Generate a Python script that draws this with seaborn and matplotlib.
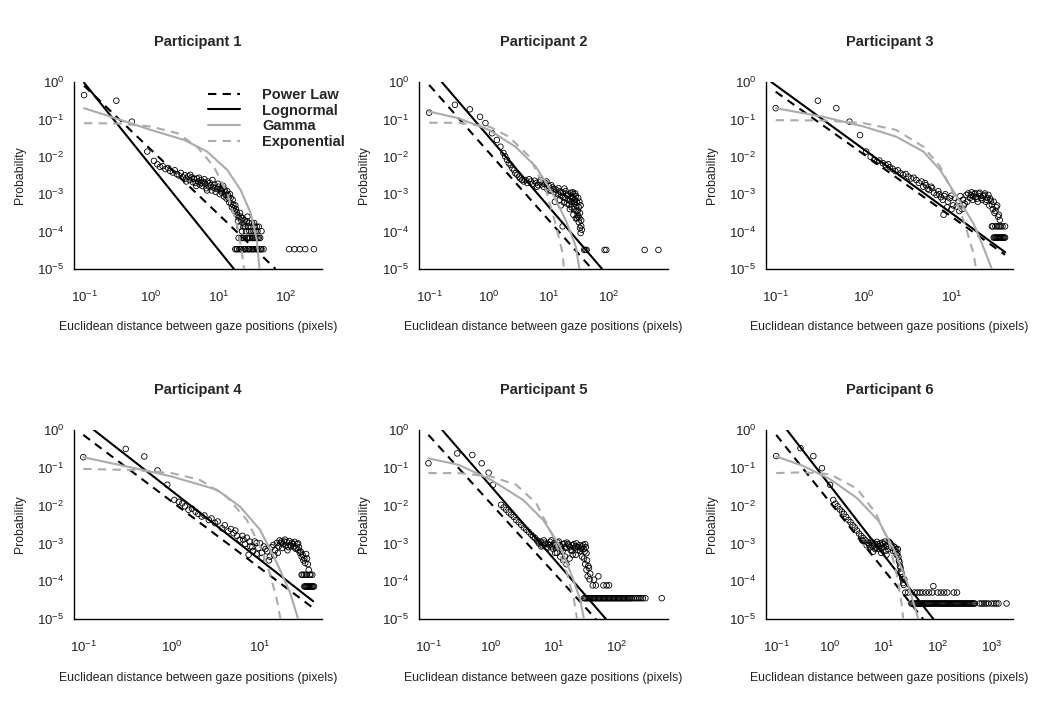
import numpy as np
import matplotlib
matplotlib.use("Agg")
import matplotlib.pyplot as plt
import seaborn as sns
from matplotlib.lines import Line2D
from matplotlib.ticker import FixedLocator, NullLocator, LogFormatterSciNotation

sns.set_theme(style="white")
plt.rcParams['font.family'] = ['Liberation Sans', 'DejaVu Sans']

# ---------------- data (log10 units) ----------------
titles = ["Participant 1", "Participant 2", "Participant 3",
          "Participant 4", "Participant 5", "Participant 6"]
legend_labels = ["Power Law", "Lognormal", "Gamma", "Exponential"]
x_label = "Euclidean distance between gaze positions (pixels)"
y_label = "Probability"

# Participant 1
p1_dist = [-1.0, -0.52, -0.29, -0.06, 0.04, 0.09, 0.13, 0.17, 0.21, 0.25, 0.28, 0.32, 0.35, 0.38, 0.41, 0.44,
           0.47, 0.50, 0.52, 0.55, 0.57, 0.60, 0.62, 0.64, 0.66, 0.68, 0.70, 0.72, 0.74, 0.76, 0.78, 0.80,
           0.82, 0.84, 0.86, 0.88, 0.90, 0.92, 0.94, 0.96, 0.98, 1.00, 1.02, 1.04, 1.06, 1.08, 1.10, 1.12,
           1.14, 1.16, 1.18, 1.20, 1.22, 1.24, 1.26, 1.28, 1.30, 1.32, 1.34, 1.36, 1.38, 1.40, 1.42, 1.44,
           1.46, 1.48, 1.50, 1.52, 1.54, 1.56, 1.58, 1.60, 1.62, 1.64,
           1.30, 1.34, 1.38, 1.42, 1.46, 1.50, 1.54, 1.58,
           1.25, 1.28, 1.31, 1.34, 1.37, 1.40, 1.43, 1.46, 1.49, 1.52, 1.55, 1.58, 1.61, 1.64, 1.67,
           2.05, 2.13, 2.21, 2.29, 2.42,
           0.52, 0.58, 0.63, 0.67, 0.71, 0.75, 0.79, 0.83, 0.87, 0.91, 0.95, 0.99, 1.03, 1.05, 1.07, 1.09,
           1.11, 1.13, 1.15, 1.17, 1.19, 1.21, 1.23, 1.25, 1.27, 1.29, 1.31, 1.33, 1.35, 1.37, 1.39, 1.41,
           1.43, 1.45, 1.47, 1.49, 1.51, 1.53, 1.55, 1.57, 1.27, 1.33, 1.39, 1.45, 1.51, 1.57, 1.63,
           1.36, 1.44, 1.52, 1.60]
p1_prob = [-0.35, -0.50, -1.06, -1.86, -2.11, -2.20, -2.27, -2.25, -2.33, -2.30, -2.38, -2.42, -2.36, -2.46, -2.50, -2.43,
           -2.55, -2.49, -2.58, -2.52, -2.62, -2.55, -2.68, -2.60, -2.70, -2.58, -2.66, -2.74, -2.62, -2.78, -2.68, -2.72,
           -2.84, -2.66, -2.80, -2.76, -2.90, -2.82, -2.74, -2.94, -2.86, -2.80, -3.00, -2.90, -2.84, -3.06, -2.95, -3.12,
           -3.02, -3.22, -3.10, -3.35, -3.28, -3.45, -3.40, -3.55, -3.62, -3.50, -3.70, -3.64, -3.78, -3.87, -3.72, -3.87,
           -3.99, -3.87, -3.77, -3.99, -3.87, -4.17, -3.99, -3.87, -4.17, -3.99,
           -4.17, -4.17, -4.17, -4.17, -4.17, -4.17, -4.17, -4.17,
           -4.47, -4.47, -4.47, -4.47, -4.47, -4.47, -4.47, -4.47, -4.47, -4.47, -4.47, -4.47, -4.47, -4.47, -4.47,
           -4.47, -4.47, -4.47, -4.47, -4.47,
           -2.66, -2.48, -2.58, -2.78, -2.56, -2.70, -2.60, -2.90, -2.70, -2.62, -2.84, -2.72, -2.86, -2.96, -2.78, -2.88,
           -3.02, -2.92, -3.10, -3.00, -3.25, -3.15, -3.38, -3.30, -3.48, -3.72, -3.87, -3.60, -3.99, -3.87, -3.70, -3.99,
           -3.60, -3.77, -4.17, -3.99, -4.17, -3.77, -3.99, -3.87, -4.47, -4.47, -4.47, -4.47, -4.47, -4.47, -4.47,
           -4.17, -4.17, -4.17, -4.17]
p1_power_x, p1_power_y = [-1.0, 1.85], [-0.10, -5.0]
p1_logn_x, p1_logn_y = [-1.0, 1.23], [-0.02, -5.0]
p1_gamma_x = [-1.0, -0.60, -0.01, 0.49, 0.83, 1.13, 1.33, 1.48, 1.57, 1.61]
p1_gamma_y = [-0.70, -0.93, -1.28, -1.55, -1.86, -2.35, -2.89, -3.51, -4.22, -5.0]
p1_exp_x = [-1.0, -0.50, -0.01, 0.39, 0.68, 0.93, 1.13, 1.28, 1.35, 1.38]
p1_exp_y = [-1.10, -1.11, -1.19, -1.37, -1.73, -2.26, -2.97, -3.86, -4.58, -5.0]

# Participant 2
p2_dist = [-1.0, -0.57, -0.32, -0.15, -0.06, 0.05, 0.13, 0.19,
           0.24, 0.27, 0.30, 0.33, 0.36, 0.39, 0.42, 0.44, 0.47, 0.50, 0.52, 0.55, 0.58, 0.61, 0.64, 0.67,
           0.70, 0.73, 0.76, 0.79, 0.82, 0.85, 0.88, 0.91, 0.94, 0.97, 1.00, 1.03, 1.06, 1.09, 1.12, 1.15,
           1.18, 1.21, 1.24, 1.27, 1.30, 1.33, 1.36, 1.38, 1.40, 1.42, 1.44, 1.46, 1.48, 1.49, 1.50, 1.51,
           1.52, 1.53, 1.54, 1.10, 1.20, 1.25, 1.35, 1.41, 1.45, 1.23, 1.47,
           1.59, 1.61, 1.63, 1.93, 1.96, 2.60, 2.83,
           1.00, 1.04, 1.08, 1.12, 1.16, 1.20, 1.24, 1.28, 1.32, 1.35, 1.37, 1.39, 1.41, 1.43, 1.45, 1.47,
           1.49, 1.50, 1.51, 1.52, 1.53, 1.54, 1.55, 1.30, 1.38, 1.46, 0.80, 0.86, 0.92, 0.96, 1.18, 1.26,
           1.34, 1.42, 1.48, 1.40, 1.44]
p2_prob = [-0.82, -0.61, -0.73, -0.93, -1.10, -1.37, -1.55, -1.73,
           -1.90, -1.99, -2.08, -2.17, -2.22, -2.31, -2.36, -2.44, -2.48, -2.53, -2.58, -2.62, -2.66, -2.62, -2.70, -2.60,
           -2.66, -2.72, -2.64, -2.70, -2.76, -2.68, -2.74, -2.80, -2.70, -2.86, -2.78, -2.90, -2.82, -2.95, -2.88, -3.00,
           -2.92, -3.05, -2.96, -3.10, -3.02, -3.15, -3.06, -3.20, -3.10, -3.25, -3.15, -3.30, -3.45, -3.60, -3.75, -3.64,
           -3.90, -4.04, -3.85, -3.20, -3.30, -3.22, -3.40, -3.55, -3.65, -3.86, -3.64,
           -4.49, -4.49, -4.49, -4.49, -4.49, -4.49, -4.49,
           -2.90, -2.76, -2.86, -2.98, -2.84, -2.95, -3.08, -2.92, -3.00, -3.18, -2.96, -3.12, -3.00, -3.20, -3.05, -3.22,
           -3.10, -3.35, -3.20, -3.50, -3.30, -3.70, -3.95, -3.25, -3.35, -3.45, -2.80, -2.62, -2.72, -2.66, -3.15, -2.85,
           -3.28, -3.40, -3.55, -2.95, -2.98]
p2_power_x, p2_power_y = [-1.0, 1.72], [-0.08, -5.0]
p2_logn_x, p2_logn_y = [-0.79, 1.89], [0.0, -5.0]
p2_gamma_x = [-1.0, -0.51, 0.0, 0.44, 0.78, 1.06, 1.28, 1.45, 1.51]
p2_gamma_y = [-0.79, -0.97, -1.28, -1.73, -2.26, -2.97, -3.69, -4.40, -5.0]
p2_exp_x = [-1.0, -0.51, 0.0, 0.33, 0.67, 0.95, 1.11, 1.23, 1.25]
p2_exp_y = [-1.09, -1.09, -1.19, -1.46, -1.99, -2.89, -3.78, -4.58, -5.0]

# Participant 3
p3_dist = [-1.0, -0.52, -0.31, -0.16, -0.04, 0.03,
           0.08, 0.12, 0.15, 0.18, 0.22, 0.25, 0.28, 0.30, 0.33, 0.36, 0.39, 0.42, 0.45, 0.48, 0.51, 0.54,
           0.57, 0.60, 0.63, 0.66, 0.68, 0.71, 0.73, 0.75, 0.78, 0.80, 0.83, 0.85, 0.88, 0.90, 0.91, 0.93,
           0.96, 0.98, 1.00, 1.02, 1.04, 1.06, 1.08, 1.10, 1.12, 1.13, 1.15, 1.17, 1.19, 1.21, 1.23, 1.25,
           1.27, 1.29, 1.31, 1.33, 1.35, 1.37, 1.39, 1.41, 1.43, 1.45, 1.47, 1.49, 1.51, 1.53, 1.55,
           1.46, 1.50, 1.54, 1.58, 1.61,
           1.48, 1.50, 1.52, 1.54, 1.56, 1.58, 1.60,
           1.22, 1.24, 1.26, 1.28, 1.30, 1.32, 1.34, 1.36, 1.38, 1.40, 1.42, 1.44, 1.46, 1.48, 1.50, 1.52,
           1.54, 1.18, 1.14, 1.09, 1.00, 0.95, 1.47, 1.52, 1.56, 1.49, 1.51, 1.53, 1.55, 1.57, 1.59, 1.61,
           0.70, 0.77, 0.86, 0.92]
p3_prob = [-0.70, -0.50, -0.70, -1.06, -1.42, -1.86,
           -2.00, -2.08, -2.13, -2.10, -2.17, -2.22, -2.20, -2.28, -2.32, -2.38, -2.36, -2.44, -2.48, -2.46, -2.53, -2.58,
           -2.56, -2.62, -2.70, -2.66, -2.80, -2.76, -2.86, -2.89, -2.84, -2.96, -3.02, -2.92, -3.08, -3.15, -3.55, -3.00,
           -3.20, -3.11, -3.04, -3.30, -3.10, -3.33, -3.18, -3.05, -3.40, -3.15, -3.25, -3.02, -2.98, -3.10, -2.95, -3.06,
           -2.97, -3.12, -2.99, -3.05, -3.15, -3.02, -3.20, -3.10, -3.30, -3.18, -3.40, -3.50, -3.35, -3.60, -3.69,
           -3.86, -3.86, -3.86, -3.86, -3.86,
           -4.16, -4.16, -4.16, -4.16, -4.16, -4.16, -4.16,
           -3.02, -3.15, -3.00, -3.08, -3.20, -2.96, -3.10, -3.05, -2.98, -3.15, -3.02, -3.12, -3.28, -3.20, -3.45, -3.30,
           -3.55, -3.20, -3.30, -3.45, -3.40, -3.35, -3.86, -3.86, -3.86, -4.16, -4.16, -4.16, -4.16, -4.16, -4.16, -4.16,
           -2.70, -2.80, -3.00, -3.05]
p3_power_x, p3_power_y = [-1.0, 1.61], [-0.26, -4.62]
p3_logn_x, p3_logn_y = [-1.05, 1.61], [0.0, -4.55]
p3_gamma_x = [-1.0, -0.46, 0.0, 0.37, 0.68, 0.87, 1.06, 1.25, 1.36, 1.46]
p3_gamma_y = [-0.70, -0.93, -1.19, -1.46, -1.86, -2.35, -3.06, -3.78, -4.40, -5.0]
p3_exp_x = [-1.0, -0.46, 0.0, 0.37, 0.68, 0.87, 1.02, 1.15, 1.25, 1.28]
p3_exp_y = [-1.02, -1.03, -1.10, -1.28, -1.73, -2.26, -2.97, -3.78, -4.58, -5.0]

# Participant 4
p4_dist = [-1.0, -0.52, -0.31, -0.16, -0.05, 0.03,
           0.08, 0.12, 0.15, 0.19, 0.23, 0.27, 0.30, 0.34, 0.37, 0.42, 0.45, 0.49, 0.52, 0.57, 0.60, 0.64,
           0.67, 0.70, 0.72, 0.77, 0.80, 0.83, 0.85, 0.87, 0.89, 0.92, 0.94, 0.96, 0.98, 1.00, 1.02, 1.04,
           1.06, 1.08, 1.11, 1.13, 1.15, 1.17, 1.19, 1.21, 1.22, 1.24, 1.26, 1.28, 1.30, 1.32, 1.34, 1.36,
           1.38, 1.40, 1.42, 1.43, 1.45, 1.47, 1.49, 1.51, 1.53, 1.55,
           1.47, 1.50, 1.53, 1.56, 1.59,
           1.50, 1.52, 1.54, 1.56, 1.58, 1.60,
           1.23, 1.25, 1.27, 1.29, 1.31, 1.33, 1.35, 1.37, 1.39, 1.41, 1.43, 1.44, 1.46, 1.48, 1.50, 1.52,
           1.54, 1.20, 1.16, 1.10, 1.02, 0.96, 1.48, 1.52, 1.57, 1.51, 1.53, 1.55, 1.57, 1.59, 1.61,
           0.74, 0.81, 0.88, 0.91]
p4_prob = [-0.72, -0.50, -0.70, -1.07, -1.45, -1.85,
           -1.90, -1.94, -2.02, -2.11, -2.08, -2.16, -2.22, -2.29, -2.26, -2.38, -2.34, -2.46, -2.42, -2.60, -2.52, -2.68,
           -2.62, -2.73, -2.66, -2.90, -2.80, -3.01, -2.85, -3.30, -3.08, -3.21, -2.95, -2.99, -3.12, -3.00, -3.25, -3.08,
           -3.15, -3.21, -3.35, -3.10, -3.04, -3.18, -2.99, -3.08, -2.92, -2.95, -3.02, -2.90, -2.96, -3.10, -3.04, -2.98,
           -3.08, -3.14, -3.02, -3.17, -3.25, -3.35, -3.45, -3.52, -3.40, -3.70,
           -3.83, -3.83, -3.83, -3.83, -3.83,
           -4.14, -4.14, -4.14, -4.14, -4.14, -4.14,
           -3.00, -3.12, -2.95, -3.06, -3.18, -2.94, -3.08, -3.02, -2.96, -3.12, -3.00, -3.10, -3.22, -3.30, -3.40, -3.28,
           -3.55, -3.25, -3.32, -3.45, -3.38, -3.28, -3.83, -3.83, -3.83, -4.14, -4.14, -4.14, -4.14, -4.14, -4.14,
           -2.80, -2.90, -2.95, -3.10]
p4_power_x, p4_power_y = [-1.0, 1.60], [-0.13, -4.71]
p4_logn_x, p4_logn_y = [-0.88, 1.60], [0.0, -4.53]
p4_gamma_x = [-1.0, -0.32, 0.0, 0.51, 0.77, 1.00, 1.19, 1.34, 1.43]
p4_gamma_y = [-0.72, -1.06, -1.23, -1.58, -2.02, -2.64, -3.52, -4.31, -5.0]
p4_exp_x = [-1.0, -0.43, 0.0, 0.32, 0.62, 0.85, 1.00, 1.11, 1.19, 1.23]
p4_exp_y = [-1.03, -1.06, -1.14, -1.32, -1.76, -2.38, -3.08, -3.79, -4.49, -5.0]

# Participant 5
p5_dist = [-1.0, -0.54, -0.30, -0.15, -0.04, 0.03, 0.16,
           0.20, 0.24, 0.28, 0.32, 0.36, 0.40, 0.44, 0.48, 0.52, 0.56, 0.60, 0.64, 0.67, 0.70,
           0.73, 0.76, 0.79, 0.82, 0.85, 0.88, 0.91, 0.94, 0.97, 1.00, 1.03, 1.06, 1.09, 1.12, 1.15, 1.18,
           1.21, 1.24, 1.27, 1.30, 1.33, 1.36, 1.39, 1.42, 1.45, 1.48, 1.50, 1.52,
           1.02, 1.10, 1.15, 1.20, 1.25, 1.30,
           1.48, 1.50, 1.52, 1.54, 1.56, 1.58, 1.64, 1.71,
           1.62, 1.67, 1.79, 1.84, 1.88,
           1.48, 1.52, 1.56, 1.60, 1.64, 1.68, 1.72, 1.76, 1.80, 1.84, 1.88, 1.92, 1.96, 2.00, 2.04, 2.08,
           2.12, 2.16, 2.20, 2.24, 2.30, 2.36, 2.42, 2.46, 2.72,
           0.75, 0.80, 0.84, 0.87, 0.90, 0.93, 0.96, 0.99, 1.02, 1.05, 1.08, 1.11, 1.14, 1.17, 1.20, 1.23,
           1.26, 1.29, 1.32, 1.35, 1.38, 1.41, 1.44, 1.47, 1.49, 1.51, 1.53, 1.55, 1.57, 1.05, 1.18, 1.35, 1.45,
           1.50, 1.54, 1.58, 1.62, 1.66, 1.70, 1.74, 1.78, 1.82, 1.86, 1.90, 1.94, 1.98, 2.02, 2.06, 2.10,
           2.14, 2.18, 2.22, 2.27, 2.33, 2.39]
p5_prob = [-0.88, -0.62, -0.66, -0.88, -1.13, -1.45, -1.98,
           -2.05, -2.11, -2.18, -2.24, -2.30, -2.38, -2.44, -2.51, -2.58, -2.64, -2.70, -2.77, -2.82, -2.86,
           -2.92, -3.00, -2.95, -3.05, -2.98, -3.10, -3.02, -2.96, -3.08, -3.00, -3.12, -2.98, -3.05, -3.15, -3.02, -3.10,
           -2.98, -3.06, -3.18, -3.05, -3.12, -3.00, -3.10, -3.20, -3.08, -3.15, -3.02, -3.26,
           -3.25, -3.35, -3.45, -3.55, -3.40, -3.30,
           -3.40, -3.55, -3.70, -3.87, -3.65, -3.80, -3.96, -3.87,
           -4.11, -4.11, -4.11, -4.11, -4.11,
           -4.45, -4.45, -4.45, -4.45, -4.45, -4.45, -4.45, -4.45, -4.45, -4.45, -4.45, -4.45, -4.45, -4.45, -4.45, -4.45,
           -4.45, -4.45, -4.45, -4.45, -4.45, -4.45, -4.45, -4.45, -4.45,
           -2.95, -3.08, -2.92, -3.02, -3.12, -3.04, -2.92, -3.15, -3.05, -3.10, -2.95, -3.08, -3.20, -3.00, -3.12, -3.02,
           -3.10, -3.20, -3.02, -3.08, -3.18, -3.05, -3.14, -3.04, -3.22, -3.10, -3.45, -3.60, -3.95, -3.25, -3.35, -3.30, -3.35,
           -4.45, -4.45, -4.45, -4.45, -4.45, -4.45, -4.45, -4.45, -4.45, -4.45, -4.45, -4.45, -4.45, -4.45, -4.45, -4.45,
           -4.45, -4.45, -4.45, -4.45, -4.45, -4.45]
p5_power_x, p5_power_y = [-1.0, 1.67], [-0.13, -5.0]
p5_logn_x, p5_logn_y = [-0.78, 1.83], [0.0, -5.0]
p5_gamma_x = [-1.0, -0.52, 0.0, 0.51, 0.83, 1.10, 1.29, 1.42, 1.48]
p5_gamma_y = [-0.75, -0.92, -1.32, -1.85, -2.38, -3.08, -3.87, -4.49, -5.0]
p5_exp_x = [-1.0, -0.52, 0.0, 0.40, 0.72, 0.99, 1.21, 1.32, 1.37]
p5_exp_y = [-1.14, -1.14, -1.23, -1.45, -1.94, -2.82, -3.79, -4.49, -5.0]

# Participant 6
p6_dist = [-1.0, -0.55, -0.31, -0.15, 0.0, 0.06,
           0.10, 0.14, 0.18, 0.22, 0.26, 0.30, 0.34, 0.38, 0.42, 0.46, 0.50, 0.54, 0.58, 0.62, 0.66,
           0.70, 0.73, 0.76, 0.79, 0.82, 0.85, 0.88, 0.91, 0.94, 0.97, 1.00, 1.03, 1.06, 1.09, 1.12, 1.15,
           1.18, 1.21, 1.24, 1.26, 1.28, 1.30, 1.32, 1.34, 1.36, 1.38, 0.95, 1.05, 0.80,
           1.57, 1.62, 1.67, 1.72, 1.78, 1.84, 1.90, 2.00, 2.06, 2.12, 2.18, 2.30, 2.36, 1.92,
           1.51, 1.55, 1.59, 1.63, 1.67, 1.71, 1.75, 1.79, 1.83, 1.87, 1.91, 1.95, 1.99, 2.03, 2.07, 2.11,
           2.15, 2.19, 2.23, 2.27, 2.31, 2.35, 2.39, 2.43, 2.47, 2.51, 2.55, 2.59, 2.63, 2.67,
           2.78, 2.86, 2.94, 3.05, 3.13, 3.28,
           0.72, 0.75, 0.78, 0.81, 0.84, 0.87, 0.90, 0.93, 0.96, 0.99, 1.02, 1.05, 1.08, 1.11, 1.14, 1.17,
           1.20, 1.23, 1.25, 1.27, 1.29, 1.31, 1.33, 1.35, 1.37, 1.40, 1.45, 0.60, 0.68,
           1.53, 1.57, 1.61, 1.65, 1.69, 1.73, 1.77, 1.81, 1.85, 1.89, 1.93, 1.97, 2.01, 2.05, 2.09, 2.13,
           2.17, 2.21, 2.25, 2.29, 2.33, 2.37, 2.41, 2.45, 2.49, 2.53, 2.57, 2.61, 2.65, 2.69, 2.82, 2.90,
           3.00, 3.09]
p6_prob = [-0.69, -0.48, -0.69, -1.01, -1.45, -1.85,
           -1.95, -2.02, -2.10, -2.16, -2.22, -2.30, -2.38, -2.44, -2.52, -2.58, -2.66, -2.74, -2.80, -2.86, -2.92,
           -2.98, -3.05, -2.95, -3.08, -3.00, -3.12, -3.02, -3.15, -3.05, -2.98, -3.10, -3.20, -3.05, -2.95, -3.00, -3.12,
           -3.08, -3.20, -3.30, -3.15, -3.45, -3.60, -3.75, -3.90, -4.05, -3.95, -3.25, -3.30, -3.22,
           -4.30, -4.30, -4.30, -4.30, -4.30, -4.30, -4.30, -4.30, -4.30, -4.30, -4.30, -4.30, -4.30, -4.13,
           -4.59, -4.59, -4.59, -4.59, -4.59, -4.59, -4.59, -4.59, -4.59, -4.59, -4.59, -4.59, -4.59, -4.59, -4.59, -4.59,
           -4.59, -4.59, -4.59, -4.59, -4.59, -4.59, -4.59, -4.59, -4.59, -4.59, -4.59, -4.59, -4.59, -4.59,
           -4.59, -4.59, -4.59, -4.59, -4.59, -4.59,
           -3.00, -3.10, -2.98, -3.05, -3.15, -2.96, -3.08, -3.00, -3.12, -3.02, -2.95, -3.08, -3.15, -2.98, -3.05, -3.20,
           -3.10, -3.15, -3.25, -3.35, -3.50, -3.65, -3.80, -3.95, -4.10, -4.30, -4.30, -2.92, -3.05,
           -4.59, -4.59, -4.59, -4.59, -4.59, -4.59, -4.59, -4.59, -4.59, -4.59, -4.59, -4.59, -4.59, -4.59, -4.59, -4.59,
           -4.59, -4.59, -4.59, -4.59, -4.59, -4.59, -4.59, -4.59, -4.59, -4.59, -4.59, -4.59, -4.59, -4.59, -4.59, -4.59,
           -4.59, -4.59]
p6_power_x, p6_power_y = [-1.0, 1.73], [-0.13, -5.0]
p6_logn_x, p6_logn_y = [-0.80, 1.92], [0.0, -5.0]
p6_gamma_x = [-1.0, -0.5, 0.0, 0.5, 0.9, 1.2, 1.45, 1.6, 1.64]
p6_gamma_y = [-0.70, -0.95, -1.30, -1.80, -2.40, -3.20, -4.10, -4.80, -5.0]
p6_exp_x = [-1.0, -0.5, 0.0, 0.5, 0.85, 1.1, 1.25, 1.33, 1.36]
p6_exp_y = [-1.14, -1.12, -1.17, -1.55, -2.20, -3.00, -3.90, -4.60, -5.0]

panels = [
    (p1_dist, p1_prob, p1_power_x, p1_power_y, p1_logn_x, p1_logn_y, p1_gamma_x, p1_gamma_y, p1_exp_x, p1_exp_y),
    (p2_dist, p2_prob, p2_power_x, p2_power_y, p2_logn_x, p2_logn_y, p2_gamma_x, p2_gamma_y, p2_exp_x, p2_exp_y),
    (p3_dist, p3_prob, p3_power_x, p3_power_y, p3_logn_x, p3_logn_y, p3_gamma_x, p3_gamma_y, p3_exp_x, p3_exp_y),
    (p4_dist, p4_prob, p4_power_x, p4_power_y, p4_logn_x, p4_logn_y, p4_gamma_x, p4_gamma_y, p4_exp_x, p4_exp_y),
    (p5_dist, p5_prob, p5_power_x, p5_power_y, p5_logn_x, p5_logn_y, p5_gamma_x, p5_gamma_y, p5_exp_x, p5_exp_y),
    (p6_dist, p6_prob, p6_power_x, p6_power_y, p6_logn_x, p6_logn_y, p6_gamma_x, p6_gamma_y, p6_exp_x, p6_exp_y),
]

# ---------------- layout ----------------
W, H = 1044, 702
col_px = [(74, 322), (419, 668), (766, 1013)]
row_px = [(82, 269), (430, 619)]
xlims_log = [(-1.15, 2.54), (-1.17, 2.99), (-1.11, 1.70),
             (-1.105, 1.70), (-1.15, 2.82), (-1.19, 3.40)]
xtick_max = [2, 2, 1, 1, 2, 3]

GRAY = "#ababab"
LW = 1.5
DASH = (4, 3)

fig = plt.figure(figsize=(W / 100, H / 100), dpi=100)

for i, data in enumerate(panels):
    r, c = divmod(i, 3)
    x0, x1 = col_px[c]
    y0, y1 = row_px[r]
    ax = fig.add_axes([x0 / W, 1 - y1 / H, (x1 - x0) / W, (y1 - y0) / H])
    ax.set_xscale("log")
    ax.set_yscale("log")
    (dist, prob, pwx, pwy, lnx, lny, gmx, gmy, exx, exy) = data

    sns.scatterplot(x=np.power(10.0, dist), y=np.power(10.0, prob), ax=ax, marker="o", s=16,
                    facecolor="none", edgecolor="black", linewidth=0.6, zorder=2, legend=False)
    sns.lineplot(x=np.power(10.0, pwx), y=np.power(10.0, pwy), ax=ax, color="black", lw=LW,
                 linestyle=(0, DASH), zorder=3, sort=False, estimator=None)
    sns.lineplot(x=np.power(10.0, lnx), y=np.power(10.0, lny), ax=ax, color="black", lw=LW,
                 zorder=3, sort=False, estimator=None)
    sns.lineplot(x=np.power(10.0, gmx), y=np.power(10.0, gmy), ax=ax, color=GRAY, lw=LW,
                 zorder=3, sort=False, estimator=None)
    sns.lineplot(x=np.power(10.0, exx), y=np.power(10.0, exy), ax=ax, color=GRAY, lw=LW,
                 linestyle=(0, DASH), zorder=3, sort=False, estimator=None)

    lo, hi = xlims_log[i]
    ax.set_xlim(10 ** lo, 10 ** hi)
    ax.set_ylim(1e-5, 1e0)
    ax.xaxis.set_major_locator(FixedLocator([10.0 ** k for k in range(-1, xtick_max[i] + 1)]))
    ax.yaxis.set_major_locator(FixedLocator([10.0 ** k for k in range(-5, 1)]))
    ax.xaxis.set_major_formatter(LogFormatterSciNotation())
    ax.yaxis.set_major_formatter(LogFormatterSciNotation())
    ax.xaxis.set_minor_locator(NullLocator())
    ax.yaxis.set_minor_locator(NullLocator())
    ax.tick_params(axis="both", which="major", direction="in", length=4, width=0.9,
                   color="black", labelsize=9.5, labelcolor="#222222")
    ax.tick_params(axis="x", pad=15)
    ax.tick_params(axis="y", pad=7)
    for s in ["top", "right"]:
        ax.spines[s].set_visible(False)
    for s in ["left", "bottom"]:
        ax.spines[s].set_color("black")
        ax.spines[s].set_linewidth(1.0)
    ax.set_facecolor("white")

    ax.set_xlabel(x_label, fontsize=8.8, color="#222222")
    ax.xaxis.set_label_coords(0.5, -0.28)
    ax.xaxis.label.set_va("top")
    ax.set_ylabel(y_label, fontsize=8.8, color="#222222")
    ax.yaxis.set_label_coords(-0.195, 0.5)
    ax.set_title(titles[i], fontsize=10.5, fontweight="bold", pad=26)

    if i == 0:
        handles = [
            Line2D([], [], color="black", lw=LW, linestyle=(0, DASH)),
            Line2D([], [], color="black", lw=LW),
            Line2D([], [], color=GRAY, lw=LW),
            Line2D([], [], color=GRAY, lw=LW, linestyle=(0, DASH)),
        ]
        leg = ax.legend(handles, legend_labels, loc="upper left", bbox_to_anchor=(0.54, 0.969),
                        frameon=False, borderpad=0, borderaxespad=0, handlelength=2.2,
                        handletextpad=1.5, labelspacing=0.12,
                        prop={"weight": "bold", "size": 10.5})

fig.savefig("out.png", dpi=100, facecolor="white")
